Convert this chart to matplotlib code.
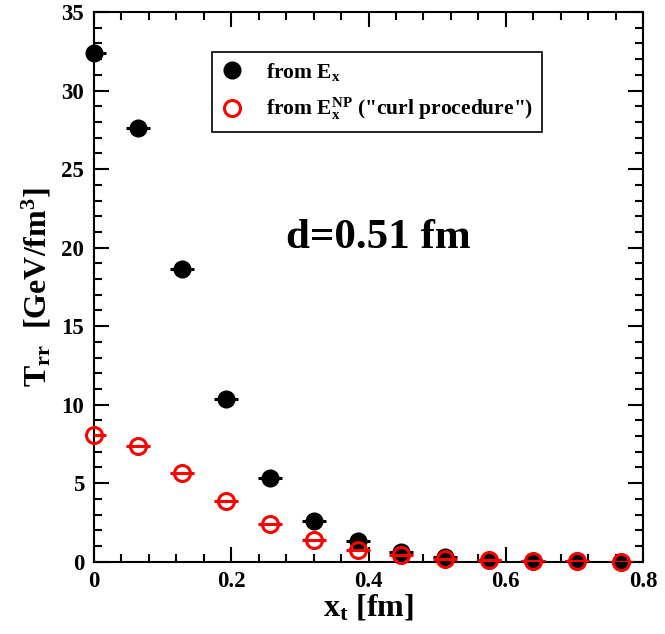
import numpy as np
import matplotlib
matplotlib.use("Agg")
import matplotlib.pyplot as plt
from matplotlib.ticker import MultipleLocator

plt.rcParams['font.family'] = ['Liberation Serif', 'DejaVu Serif']
plt.rcParams['font.weight'] = 'bold'
plt.rcParams['mathtext.fontset'] = 'custom'
plt.rcParams['mathtext.rm'] = 'Liberation Serif:bold'
plt.rcParams['mathtext.it'] = 'Liberation Serif:bold'
plt.rcParams['mathtext.bf'] = 'Liberation Serif:bold'

# data
x_t = [0.0, 0.064, 0.128, 0.192, 0.256, 0.32, 0.384, 0.448, 0.512, 0.576, 0.64, 0.704, 0.768]
T_ex = [32.4, 27.6, 18.65, 10.35, 5.3, 2.62, 1.32, 0.62, 0.27, 0.13, 0.06, 0.03, 0.01]
T_np = [8.07, 7.36, 5.65, 3.84, 2.38, 1.4, 0.72, 0.42, 0.2, 0.1, 0.05, 0.02, 0.01]
x_err = 0.0175
x_ticks = [0, 0.2, 0.4, 0.6, 0.8]
x_ticklabels = ['0', '0.2', '0.4', '0.6', '0.8']

fig = plt.figure(figsize=(6.65, 6.34), dpi=100)
ax = fig.add_axes([0.1414, 0.114, 0.8255, 0.867])

# black: from E_x
ax.errorbar(x_t, T_ex, xerr=x_err, fmt='none', ecolor='black', elinewidth=2.2, capsize=0, zorder=2)
ax.plot(x_t, T_ex, 'o', color='black', markersize=12, clip_on=False, zorder=3,
        label=r'from E$_{\rm x}$')

# red: curl procedure
ax.errorbar(x_t, T_np, xerr=x_err, fmt='none', ecolor='red', elinewidth=2.2, capsize=0, zorder=4)
ax.plot(x_t, T_np, 'o', markerfacecolor='none', markeredgecolor='red', markeredgewidth=2.2,
        markersize=11.5, clip_on=False, zorder=5,
        label=r'from E$_{\rm x}^{\rm NP}$ ("curl procedure")')

ax.set_xlim(0, 0.8)
ax.set_ylim(0, 35)
ax.set_xticks(x_ticks)
ax.set_xticklabels(x_ticklabels)
ax.xaxis.set_minor_locator(MultipleLocator(0.04))
ax.yaxis.set_major_locator(MultipleLocator(5))
ax.yaxis.set_minor_locator(MultipleLocator(1))

ax.tick_params(which='both', direction='in', top=True, right=True, width=1.5, labelsize=16.5)
ax.tick_params(which='major', length=11, pad=7)
ax.tick_params(which='minor', length=5.5)
for sp in ax.spines.values():
    sp.set_linewidth(1.5)

ax.set_xlabel(r'x$_{\rm t}$ [fm]', fontsize=23, fontweight='bold', labelpad=0)
ax.set_ylabel(r'T$_{\rm rr}$  [GeV/fm$^{3}$]', fontsize=23, fontweight='bold', labelpad=6)

ax.text(0.415, 20.6, 'd=0.51 fm', fontsize=31, fontweight='bold', ha='center', va='center')

leg = ax.legend(loc='upper left', bbox_to_anchor=(0.2145, 0.9275), fancybox=False, framealpha=1,
                edgecolor='black', fontsize=15.5, handlelength=1.0, handletextpad=1.1,
                borderpad=0.42, labelspacing=0.62, borderaxespad=0)
leg.get_frame().set_linewidth(1.2)

fig.savefig('out.png', dpi=100)
